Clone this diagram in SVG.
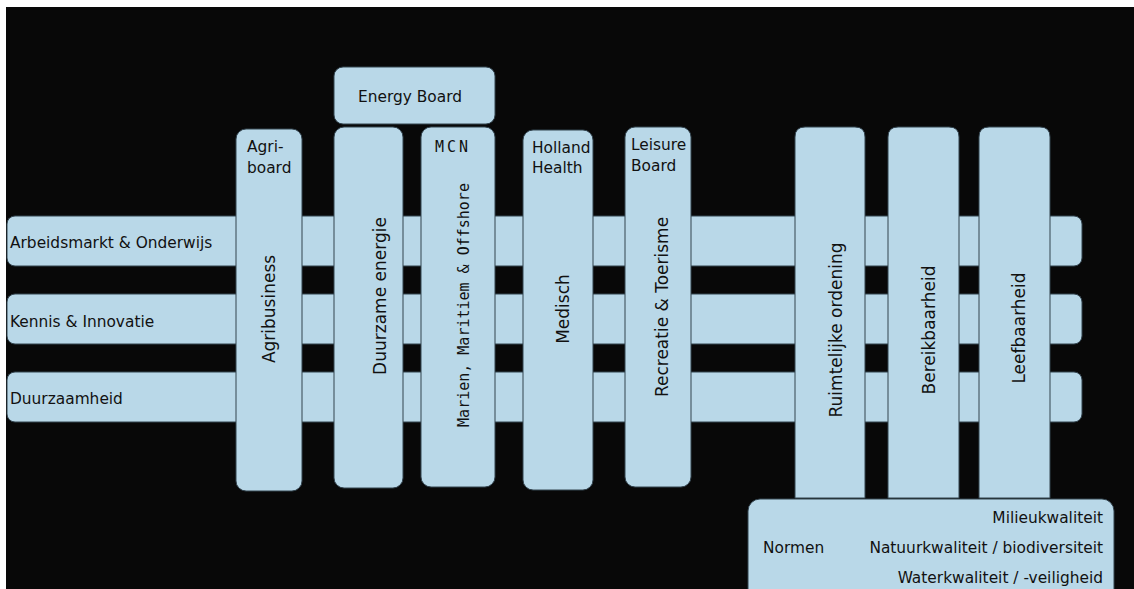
<svg xmlns="http://www.w3.org/2000/svg" width="1134" height="589" viewBox="0 0 1134 589">
<style>
.box{fill:#b9d8e8;stroke:#33444f;stroke-width:1}
.t{font-family:"DejaVu Sans",Verdana,sans-serif;font-size:15.4px;fill:#111}
.v{font-family:"DejaVu Sans",Verdana,sans-serif;font-size:17px;fill:#111;text-anchor:middle}
.m{font-family:"DejaVu Sans Mono","Liberation Mono",monospace;font-size:15px;fill:#111}
.r{text-anchor:middle}
.e{text-anchor:end}
</style>
<rect x="0" y="0" width="1134" height="589" fill="#ffffff"/>
<rect x="6" y="7" width="1128" height="582" fill="#080808"/>
<g id="connectors"/>
<g id="row-arbeidsmarkt">
<rect class="box" x="7" y="216" width="1075" height="50" rx="8"/>
<text class="t" x="10" y="248">Arbeidsmarkt &amp; Onderwijs</text>
</g>
<g id="row-kennis">
<rect class="box" x="7" y="294" width="1075" height="50" rx="8"/>
<text class="t" x="10" y="327">Kennis &amp; Innovatie</text>
</g>
<g id="row-duurzaamheid">
<rect class="box" x="7" y="372" width="1075" height="50" rx="8"/>
<text class="t" x="10" y="404">Duurzaamheid</text>
</g>
<g id="col-agribusiness">
<rect class="box" x="236" y="129" width="66" height="362" rx="10"/>
<text class="t" x="247" y="152">Agri-</text>
<text class="t" x="247" y="173">board</text>
<text class="v" transform="translate(275,309) rotate(-90)">Agribusiness</text>
</g>
<g id="col-duurzame-energie">
<rect class="box" x="334" y="127" width="69" height="361" rx="10"/>
<text class="v" transform="translate(386,296) rotate(-90)">Duurzame energie</text>
</g>
<g id="energy-board">
<rect class="box" x="334" y="67" width="161" height="57" rx="9"/>
<text class="t" x="358" y="102">Energy Board</text>
</g>
<g id="col-mcn">
<rect class="box" x="421" y="127" width="74" height="360" rx="10"/>
<text class="m" x="435" y="152" letter-spacing="3">MCN</text>
<text class="m r" transform="translate(469,305) rotate(-90)">Marien, Maritiem &amp; Offshore</text>
</g>
<g id="col-medisch">
<rect class="box" x="523" y="130" width="70" height="360" rx="10"/>
<text class="t" x="532" y="153">Holland</text>
<text class="t" x="532" y="173">Health</text>
<text class="v" transform="translate(569,309) rotate(-90)">Medisch</text>
</g>
<g id="col-recreatie">
<rect class="box" x="625" y="127" width="66" height="360" rx="10"/>
<text class="t" x="631" y="150">Leisure</text>
<text class="t" x="631" y="171">Board</text>
<text class="v" transform="translate(668,307) rotate(-90)">Recreatie &amp; Toerisme</text>
</g>
<g id="col-ruimtelijke">
<path class="box" d="M795,498 V137 Q795,127 805,127 H855 Q865,127 865,137 V498 Z"/>
<text class="v" transform="translate(842,330) rotate(-90)">Ruimtelijke ordening</text>
</g>
<g id="col-bereikbaarheid">
<path class="box" d="M888,498 V137 Q888,127 898,127 H949 Q959,127 959,137 V498 Z"/>
<text class="v" transform="translate(935,330) rotate(-90)">Bereikbaarheid</text>
</g>
<g id="col-leefbaarheid">
<path class="box" d="M979,498 V137 Q979,127 989,127 H1040 Q1050,127 1050,137 V498 Z"/>
<text class="v" transform="translate(1025,328) rotate(-90)">Leefbaarheid</text>
</g>
<g id="normen">
<rect class="box" x="748" y="499" width="366" height="110" rx="12"/>
<text class="t" x="763" y="553">Normen</text>
<text class="t e" x="1103" y="523">Milieukwaliteit</text>
<text class="t e" x="1103" y="553">Natuurkwaliteit / biodiversiteit</text>
<text class="t e" x="1103" y="583">Waterkwaliteit / -veiligheid</text>
</g>
</svg>
